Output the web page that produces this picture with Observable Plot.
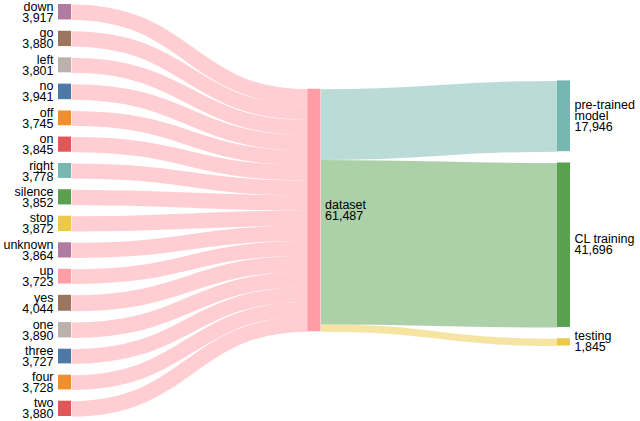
<!DOCTYPE html>
<html><head><meta charset="utf-8">
<script src="https://cdn.jsdelivr.net/npm/d3@7"></script>
<script src="https://cdn.jsdelivr.net/npm/@observablehq/plot@0.6"></script>
<style>
html,body{margin:0;padding:0;background:#fff;}
#chart svg{display:block;font-family:"Liberation Sans",Arial,Helvetica,sans-serif;}
</style>
</head><body><div id="chart"></div>
<script>
// ---- data ----
const sourceNames = ["down","go","left","no","off","on","right","silence","stop","unknown","up","yes","one","three","four","two"];
const sourceValues = [3917,3880,3801,3941,3745,3845,3778,3852,3872,3864,3723,4044,3890,3727,3728,3880];
const sourceColors = ["#b07aa1","#9c755f","#bab0ac","#4e79a7","#f28e2b","#e15759","#76b7b2","#59a14f","#edc948","#b07aa1","#ff9da7","#9c755f","#bab0ac","#4e79a7","#f28e2b","#e15759"];
const hubName = "dataset";
const hubValue = 61487;
const hubColor = "#ff9da7";
const splitNames = ["pre-trained\nmodel","CL training","testing"];
const splitValues = [17946,41696,1845];
const splitColors = ["#76b7b2","#59a14f","#edc948"];

// ---- layout (sankey-like, computed) ----
const W = 640, H = 421;
const yTop = 4, yBottom = 416, xLeft = 58, xRight = 570;
const nodeWpx = 13, padPx = 11.3;
const kx = (xRight - xLeft - nodeWpx) / 2;         // px per column
const NW = nodeWpx / kx;                           // node width in column units
const total = d3.sum(sourceValues);
const ky = ((yBottom - yTop) - (sourceValues.length - 1) * padPx) / total; // px per value
const pad = padPx / ky;                            // padding in value units
const span = total + (sourceValues.length - 1) * pad;

const nodes = [];
let acc = 0;
sourceNames.forEach((n, i) => {
  nodes.push({name: n, value: sourceValues[i], color: sourceColors[i], depth: 0, y0: acc, y1: acc + sourceValues[i]});
  acc += sourceValues[i] + pad;
});
const hub = {name: hubName, value: hubValue, color: hubColor, depth: 1, y0: (span - hubValue) / 2};
hub.y1 = hub.y0 + hubValue;
nodes.push(hub);
// right column: stacked with padding, shifted so value-weighted offset from source links is zero
const shift = d3.sum(splitValues, (v, i) => v * i * pad) / d3.sum(splitValues);
let s = hub.y0 - shift;
const splits = splitNames.map((n, i) => {
  const nd = {name: n, value: splitValues[i], color: splitColors[i], depth: 2, y0: s, y1: s + splitValues[i]};
  s += splitValues[i] + pad;
  return nd;
});
nodes.push(...splits);

const links = [];
let hin = hub.y0;
nodes.filter(d => d.depth === 0).forEach(d => {
  links.push({x1: NW, y1: (d.y0 + d.y1) / 2, x2: 1, y2: hin + d.value / 2, value: d.value, color: hubColor});
  hin += d.value;
});
let hout = hub.y0;
splits.forEach(d => {
  links.push({x1: 1 + NW, y1: hout + d.value / 2, x2: 2, y2: (d.y0 + d.y1) / 2, value: d.value, color: d.color});
  hout += d.value;
});

const fmt = d3.format(",");
const chart = Plot.plot({
  width: W, height: H,
  marginLeft: xLeft, marginRight: W - xRight, marginTop: yTop, marginBottom: H - yBottom,
  x: {domain: [0, 2 + NW], range: [xLeft, xRight], axis: null},
  y: {domain: [0, span], range: [yTop, yBottom], axis: null},
  color: {type: "identity"},
  marks: [
    Plot.link(links, {x1: "x1", y1: "y1", x2: "x2", y2: "y2", curve: "bump-x",
      stroke: "color", strokeOpacity: 0.5, strokeWidth: d => d.value * ky}),
    Plot.rect(nodes, {x1: d => d.depth, x2: d => d.depth + NW, y1: "y0", y2: "y1", fill: "color"}),
    Plot.text(nodes.filter(d => d.depth === 0), {x: d => d.depth, y: d => (d.y0 + d.y1) / 2,
      text: d => d.name + "\n" + fmt(d.value), textAnchor: "end", dx: -5, dy: 0.5, fontSize: 12.5, lineHeight: 0.88, fill: "#000"}),
    Plot.text(nodes.filter(d => d.depth > 0), {x: d => d.depth + NW, y: d => (d.y0 + d.y1) / 2,
      text: d => d.name + "\n" + fmt(d.value), textAnchor: "start", dx: 4, fontSize: 12.5, lineHeight: 0.88, fill: "#000"})
  ]
});
document.getElementById("chart").appendChild(chart);
</script>
</body></html>
